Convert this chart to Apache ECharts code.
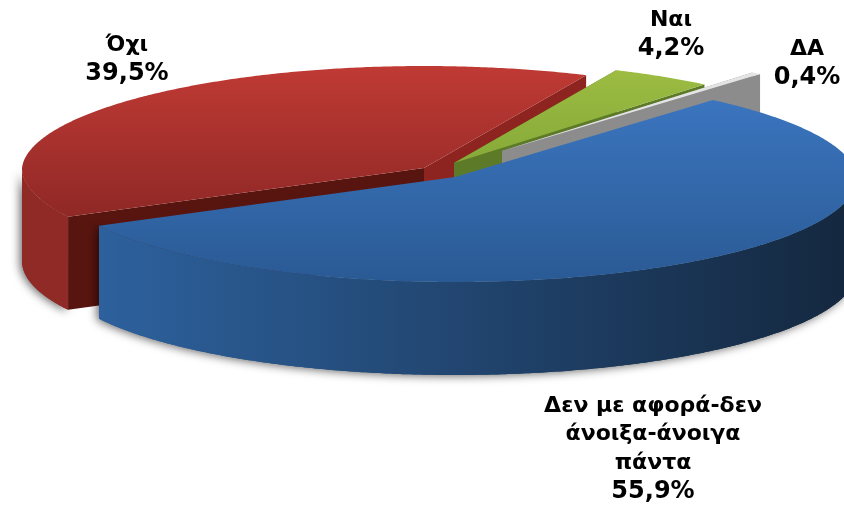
<!DOCTYPE html>
<html>
<head>
<meta charset="utf-8">
<style>html,body{margin:0;padding:0;background:#fff}#c{width:844px;height:505px}</style>
<script src="https://cdn.jsdelivr.net/npm/echarts@6/dist/echarts.min.js"></script>
</head>
<body>
<div id="c"></div>
<script>
// Data (drawn back to front)
var categories = ['Όχι', 'Ναι', 'ΔΑ', 'Δεν με αφορά-δεν\nάνοιξα-άνοιγα\nπάντα'];
var values = [39.5, 4.2, 0.4, 55.9];

// Layout of the tilted pie
var pie = { cx: 455, cy: 178, rx: 402, ryFront: 105, ryBack: 102, persp: 0.03, depth: 93, startDeg: 242.3 };
var explode = [[-31, -10], [-1, -15], [47, -27], [0, -1]];
var labelAt = [[-328, -147], [216, -172], [352, -143], [198, 214]];
var palette = [
  { top: ['#c03a34', '#8f2826'], side: ['#8f2a26', '#8f2a26'], wallA: '#58140f', wallB: '#8e2420' },
  { top: ['#9cbc42', '#86a938'], side: ['#6a8a2c', '#6a8a2c'], wallA: '#5c7a28', wallB: '#5c7a28' },
  { top: ['#e4e4e4', '#e4e4e4'], side: ['#8c8c8c', '#8c8c8c'], wallA: '#8c8c8c', wallB: '#8c8c8c' },
  { top: ['#3b75bf', '#2a5a94'], side: ['#2d619d', '#14273e'], wallA: null, wallB: null }
];

var total = values.reduce(function (a, b) { return a + b; }, 0);

function pt(c, deg, dz) {
  var t = deg * Math.PI / 180, co = Math.cos(t);
  var ry = co > 0 ? pie.ryBack : pie.ryFront;
  return [c[0] + pie.rx * Math.sin(t) * (1 - pie.persp * Math.max(co, 0)), c[1] - ry * co + (dz || 0)];
}
function arc(c, a0, a1, dz) {
  var out = [], n = Math.max(2, Math.ceil(Math.abs(a1 - a0) * 2));
  for (var i = 0; i <= n; i++) out.push(pt(c, a0 + (a1 - a0) * i / n, dz));
  return out;
}
function vgrad(c) {
  return { type: 'linear', x: 0, y: 0, x2: 0, y2: 1, colorStops: [{ offset: 0, color: c[0] }, { offset: 1, color: c[1] }] };
}
function hgrad(c) {
  return { type: 'linear', x: 0, y: 0, x2: 1, y2: 0, colorStops: [{ offset: 0, color: c[0] }, { offset: 1, color: c[1] }] };
}
function wall(c, deg, color) {
  var p = pt(c, deg), d = pie.depth;
  return { type: 'polygon', shape: { points: [[c[0], c[1]], p, [p[0], p[1] + d], [c[0], c[1] + d]] }, style: { fill: color } };
}

function renderItem(params, api) {
  var i = params.dataIndex, before = 0;
  for (var k = 0; k < i; k++) before += values[k];
  var a0 = pie.startDeg + before / total * 360;
  var a1 = a0 + api.value(0) / total * 360;
  var c = [pie.cx + explode[i][0], pie.cy + explode[i][1]];
  var col = palette[i], kids = [];

  // outer rim: the part that faces the viewer, 90..270 deg (also one turn on)
  var rim = [];
  [0, 360].forEach(function (w) {
    var s0 = Math.max(a0, 90 + w), s1 = Math.min(a1, 270 + w);
    if (s1 > s0) rim.push(arc(c, s0, s1, 0).concat(arc(c, s1, s0, pie.depth)));
  });
  rim.forEach(function (pts) {
    kids.push({
      type: 'polygon', shape: { points: pts },
      style: { fill: hgrad(col.side), shadowBlur: 10, shadowColor: 'rgba(0,0,0,0.6)', shadowOffsetX: -2, shadowOffsetY: 1 }
    });
  });
  // cut walls
  if (col.wallA) kids.push(wall(c, a0, col.wallA));
  if (col.wallB) kids.push(wall(c, a1, col.wallB));
  rim.forEach(function (pts) {
    kids.push({ type: 'polygon', shape: { points: pts }, style: { fill: hgrad(col.side) } });
  });
  // top face
  kids.push({ type: 'polygon', shape: { points: [c].concat(arc(c, a0, a1, 0)) }, style: { fill: vgrad(col.top) } });
  return { type: 'group', children: kids };
}

function renderLabel(params, api) {
  var i = params.dataIndex;
  var lines = categories[i].split('\n').map(function (s) { return '{n|' + s + '}'; });
  lines.push('{v|' + api.value(0).toFixed(1).replace('.', ',') + '%}');
  return {
    type: 'text', z2: 100,
    style: {
      x: pie.cx + labelAt[i][0], y: pie.cy + labelAt[i][1], text: lines.join('\n'), align: 'center', verticalAlign: 'top',
      fill: '#000',
      rich: {
        n: { font: 'bold 22px "DejaVu Sans"', lineHeight: 28.5, fill: '#000' },
        v: { font: 'bold 24px "DejaVu Sans"', lineHeight: 28.5, fill: '#000' }
      }
    }
  };
}

var chart = echarts.init(document.getElementById('c'), null, { renderer: 'canvas' });
var rows = values.map(function (v, i) { return [v, i]; });
chart.setOption({
  animation: false,
  backgroundColor: '#ffffff',
  series: [
    { type: 'custom', coordinateSystem: 'none', renderItem: renderItem, data: rows, silent: true, z: 2 },
    { type: 'custom', coordinateSystem: 'none', renderItem: renderLabel, data: rows, silent: true, z: 3 }
  ]
});
</script>
</body>
</html>
